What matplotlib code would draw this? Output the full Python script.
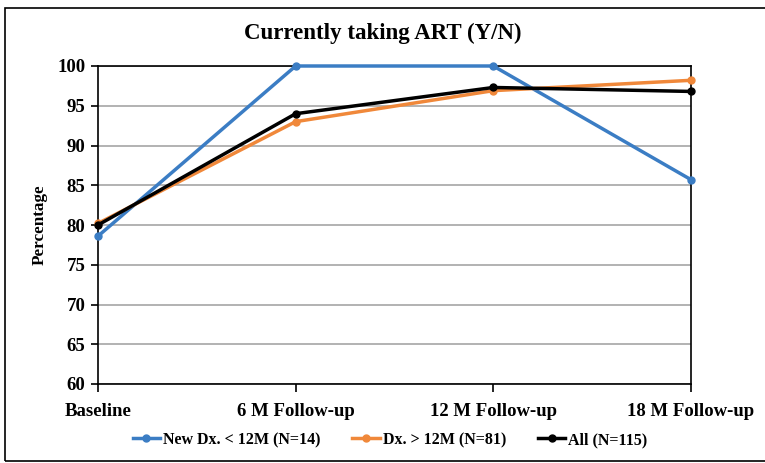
import matplotlib.pyplot as plt
from matplotlib.patches import Rectangle

# data
timepoints = ["Baseline", "6 M Follow-up", "12 M Follow-up", "18 M Follow-up"]
new_dx = [78.6, 100.0, 100.0, 85.7]
old_dx = [80.2, 93.0, 96.9, 98.2]
all_pts = [80.0, 94.0, 97.3, 96.8]

series_labels = ["New Dx. < 12M (N=14)", "Dx. > 12M (N=81)", "All (N=115)"]
series_colors = ["#3b7dc4", "#f0883a", "#000000"]

plt.rcParams["font.family"] = ["Liberation Serif", "DejaVu Serif"]
plt.rcParams["font.weight"] = "bold"

fig = plt.figure(figsize=(7.65, 4.63), dpi=100)
ax = fig.add_axes([98 / 765, 1 - 384 / 463, (691 - 98) / 765, (384 - 66) / 463])

# outer frame around the whole chart
fig.patches.append(Rectangle((5 / 765, 0.005), 1.0, 1 - 8 / 463 - 0.005,
                             transform=fig.transFigure, fill=False,
                             edgecolor="black", linewidth=1.2))

x = list(range(len(timepoints)))
for vals, lab, col in zip([new_dx, old_dx, all_pts], series_labels, series_colors):
    ax.plot(x, vals, color=col, linewidth=2.5, marker="o", markersize=5, label=lab,
            zorder=3, clip_on=False)

ax.set_xlim(0, len(timepoints) - 1)
ax.set_ylim(60, 100)
ax.set_yticks(range(60, 101, 5))
ax.set_xticks(x)
ax.set_xticklabels(timepoints, fontsize=13.5, fontweight="bold")
for t in ax.get_yticklabels():
    t.set_fontsize(13.5)
    t.set_fontweight("bold")
ax.grid(axis="y", color="#a6a6a6", linewidth=1.2)
ax.set_axisbelow(True)
for s in ax.spines.values():
    s.set_color("black")
    s.set_linewidth(1.2)
ax.tick_params(axis="x", length=6, width=1.2, pad=8)
ax.tick_params(axis="y", length=5, width=1.2, pad=4)

ax.set_ylabel("Percentage", fontsize=12.3, fontweight="bold", labelpad=7)
fig.text(0.5, 1 - 33 / 463, "Currently taking ART (Y/N)", ha="center", va="center",
         fontsize=16.5, fontweight="bold")

fig.legend(loc="center", bbox_to_anchor=(0.51, 1 - 440 / 463), ncol=3, frameon=False,
           fontsize=11.5, handlelength=1.7, handletextpad=0.2, columnspacing=2.0)

fig.savefig("out.png", dpi=100)
